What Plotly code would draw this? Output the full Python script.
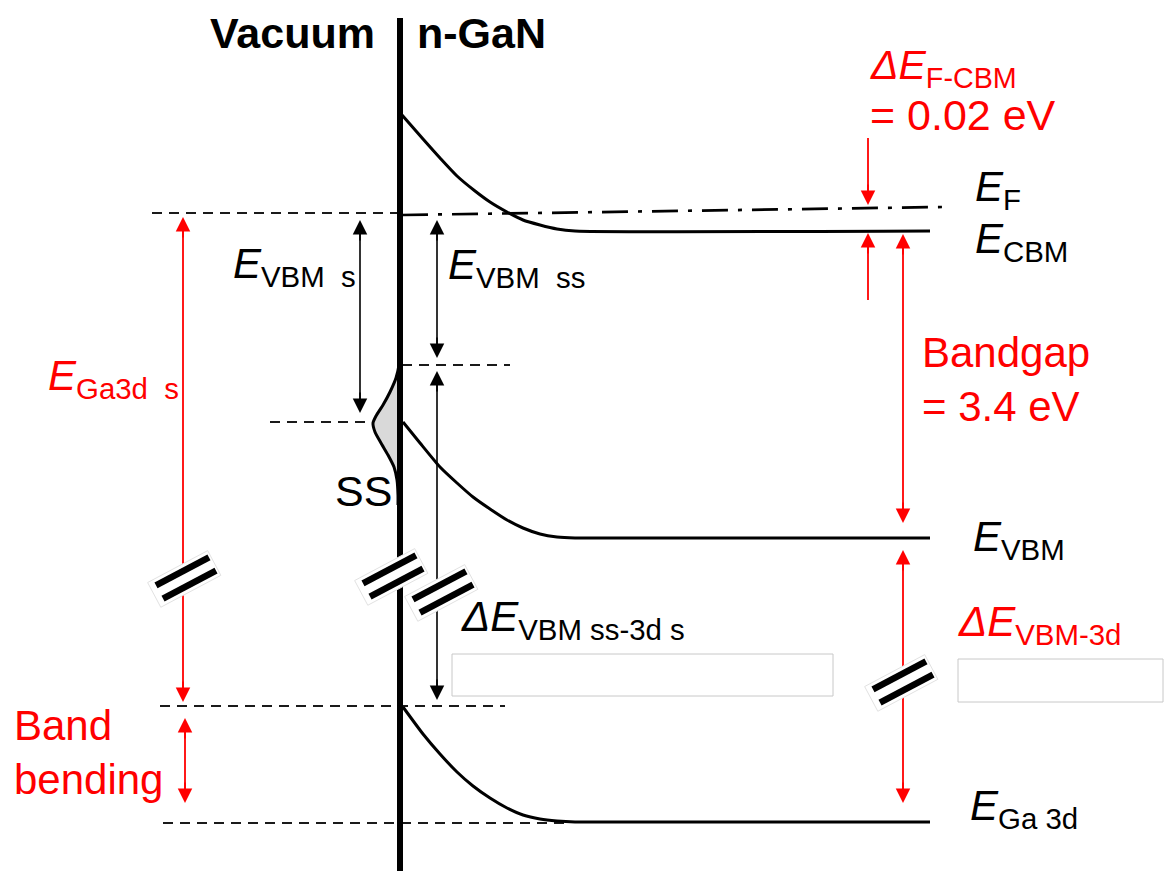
import math
import plotly.graph_objects as go

W, H = 1165, 871
RED = "#ff0000"
BLACK = "#000000"
DASHC = "#1a1a1a"
FONT = "Liberation Sans, Arial, sans-serif"

# ---- data (schematic, in picture coordinates: x to the right, y downward = lower energy)
interface_x = 400
interface_top = 18

cb_x = [402, 423, 440, 457, 475, 490, 507, 523, 540, 557, 575, 930]
cb_y = [115, 139, 158, 176, 191, 202, 212, 220, 225, 229, 231, 231]
vb_x = [403, 420, 440, 457, 473, 490, 507, 523, 540, 557, 575, 930]
vb_y = [422, 443, 467, 483, 497, 509, 520, 528, 534, 537, 538, 538]
ga_x = [403, 423, 440, 457, 473, 490, 507, 523, 540, 557, 575, 930]
ga_y = [707, 734, 754, 772, 786, 798, 808, 815, 819, 821, 822, 822]
ef_x = [402, 943]
ef_y = [215, 207]
ss_x = [400, 399, 396, 390, 383, 376, 373, 375, 381, 388, 394, 397, 398, 398]
ss_y = [352, 365, 378, 392, 405, 416, 423, 432, 443, 455, 467, 480, 495, 505]

# dashed reference levels: x start, x end, level
dash_x0 = [152, 270, 402, 160, 163]
dash_x1 = [400, 400, 510, 505, 570]
dash_y = [213, 422, 365, 706, 823]

# arrows: x, top, bottom, colour, heads
arr_x = [360, 437, 437, 183, 185, 903, 903, 868, 868]
arr_top = [220, 220, 371, 217, 718, 234, 550, 138, 233]
arr_bot = [413, 358, 700, 702, 803, 523, 803, 205, 300]
arr_col = [BLACK, BLACK, BLACK, RED, RED, RED, RED, RED, RED]
arr_heads = ["both", "both", "both", "both", "both", "both", "both", "down", "up"]

# axis-break marks (centres)
brk_x = [186, 393, 443, 903]
brk_y = [578, 576, 592, 682]

# empty boxes x0, y0, x1, y1
box_x0 = [452, 958]
box_y0 = [654, 659]
box_x1 = [833, 1163]
box_y1 = [696, 702]

fig = go.Figure()

def line(xs, ys, color=BLACK, width=3, dash=None):
    fig.add_trace(go.Scatter(x=xs, y=ys, mode="lines",
                             line=dict(color=color, width=width, dash=dash, shape="spline", smoothing=0.6),
                             hoverinfo="skip", showlegend=False))

# dashed reference lines
for x0, x1, y in zip(dash_x0, dash_x1, dash_y):
    line([x0, x1], [y, y], color=DASHC, width=2, dash="10px,7px")

# surface-state gaussian
fig.add_trace(go.Scatter(x=ss_x + [interface_x, interface_x], y=ss_y + [ss_y[-1], ss_y[0]],
                         mode="lines", fill="toself", fillcolor="#d9d9d9",
                         line=dict(width=0), hoverinfo="skip", showlegend=False))
line(ss_x, ss_y, width=3)

# bands
line(cb_x, cb_y)
line(vb_x, vb_y)
line(ga_x, ga_y)
line(ef_x, ef_y, width=2.7, dash="26px,10px,4px,10px")

# interface
line([interface_x, interface_x], [interface_top, H + 5], width=6)

# arrow shafts
annos = []
for x, t, b, c, h in zip(arr_x, arr_top, arr_bot, arr_col, arr_heads):
    w = 1.6 if c == BLACK else 1.8
    t2 = t + 5 if h in ("both", "up") else t
    b2 = b - 5 if h in ("both", "down") else b
    line([x, x], [t2, b2], color=c, width=w)
    size = 2.9 / w
    if h in ("both", "up"):
        annos.append(dict(x=x, y=t, ax=0, ay=22, xref="x", yref="y", text="", showarrow=True,
                          arrowhead=2, arrowsize=size, arrowwidth=w, arrowcolor=c, standoff=0))
    if h in ("both", "down"):
        annos.append(dict(x=x, y=b, ax=0, ay=-22, xref="x", yref="y", text="", showarrow=True,
                          arrowhead=2, arrowsize=size, arrowwidth=w, arrowcolor=c, standoff=0))

# break marks
ang = math.radians(28)
ux, uy = math.cos(ang), -math.sin(ang)
nx, ny = math.sin(ang), math.cos(ang)
for cx, cy in zip(brk_x, brk_y):
    a0, a1, hw = -36, 32, 14
    px = [cx + ux * a0 - nx * hw, cx + ux * a1 - nx * hw, cx + ux * a1 + nx * hw, cx + ux * a0 + nx * hw]
    py = [cy + uy * a0 - ny * hw, cy + uy * a1 - ny * hw, cy + uy * a1 + ny * hw, cy + uy * a0 + ny * hw]
    fig.add_trace(go.Scatter(x=px + [px[0]], y=py + [py[0]], mode="lines", fill="toself",
                             fillcolor="white", line=dict(color="#e2e2e2", width=1),
                             hoverinfo="skip", showlegend=False))
    for off in (-7.5, 7.5):
        fig.add_trace(go.Scatter(x=[cx + ux * -30 + nx * off, cx + ux * 30 + nx * off],
                                 y=[cy + uy * -30 + ny * off, cy + uy * 30 + ny * off],
                                 mode="lines", line=dict(color=BLACK, width=6.5),
                                 hoverinfo="skip", showlegend=False))

# empty boxes
for x0, y0, x1, y1 in zip(box_x0, box_y0, box_x1, box_y1):
    fig.add_shape(type="rect", x0=x0, y0=y0, x1=x1, y1=y1, xref="x", yref="y",
                  line=dict(color="#c8c8c8", width=1), fillcolor="white", layer="above")

# labels
def label(x, y, text, color=BLACK, size=42, bold=False):
    if bold:
        text = "<b>" + text + "</b>"
    annos.append(dict(x=x, y=y, xref="x", yref="y", text=text, showarrow=False,
                      xanchor="left", yanchor="middle",
                      font=dict(family=FONT, size=size, color=color)))

label(208, 33, "Vacuum", size=43, bold=True)
label(415, 33, "n-GaN", size=43, bold=True)
label(868, 68, "<i>ΔE</i><sub>F-CBM</sub>", color=RED, size=41)
label(868, 115, "= 0.02 eV", color=RED, size=43)
label(973, 189, "<i>E</i><sub>F</sub>", size=42)
label(973, 241, "<i>E</i><sub>CBM</sub>", size=42)
label(231, 266, "<i>E</i><sub>VBM  s</sub>", size=42)
label(446, 267, "<i>E</i><sub>VBM  ss</sub>", size=42)
label(46, 378, "<i>E</i><sub>Ga3d  s</sub>", color=RED, size=42)
label(333, 491, "SS", size=43)
label(920, 352, "Bandgap", color=RED, size=42)
label(920, 406, "= 3.4 eV", color=RED, size=42)
label(971, 539, "<i>E</i><sub>VBM</sub>", size=42)
label(459, 619, "<i>ΔE</i><sub>VBM ss-3d s</sub>", size=42)
label(956, 624, "<i>ΔE</i><sub>VBM-3d</sub>", color=RED, size=42)
label(12, 725, "Band", color=RED, size=42)
label(12, 779, "bending", color=RED, size=42)
label(968, 808, "<i>E</i><sub>Ga 3d</sub>", size=42)

fig.update_layout(
    width=W, height=H, margin=dict(l=0, r=0, t=0, b=0),
    paper_bgcolor="white", plot_bgcolor="white",
    xaxis=dict(range=[0, W], visible=False, fixedrange=True),
    yaxis=dict(range=[H, 0], visible=False, fixedrange=True),
    annotations=annos, showlegend=False,
)
fig.write_html("out.html")
